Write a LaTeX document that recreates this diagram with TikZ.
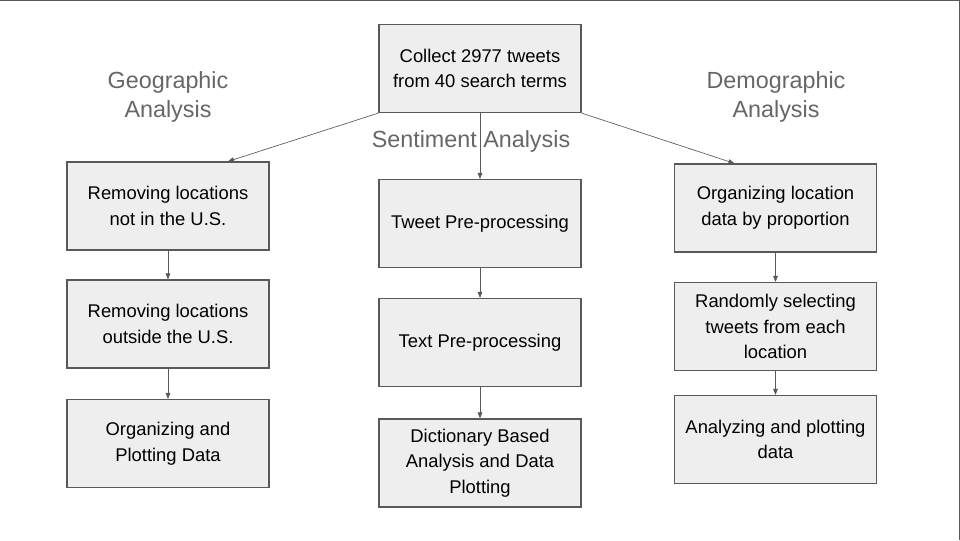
\documentclass[tikz,border=0pt]{standalone}
\usepackage{fontspec}
\setmainfont{Liberation Sans}
\usetikzlibrary{arrows.meta, positioning, calc}
\definecolor{boxgray}{HTML}{EEEEEE}
\definecolor{linegray}{HTML}{595959}
\definecolor{headgray}{HTML}{666666}

\begin{document}
\begin{tikzpicture}[x=0.75pt, y=-0.75pt,
        proc_box/.style={draw=linegray, fill=boxgray, line width=0.9pt, minimum width=151.5pt,
            minimum height=66pt, inner sep=0pt, align=center, font=\fontsize{13.8}{19.3}\selectfont},
        head_label/.style={text=headgray, align=center, font=\fontsize{17.5}{21.75}\selectfont},
        flow/.style={-{Triangle[length=4.5pt, width=3.5pt]}, draw=linegray, line width=0.5pt}]

        \useasboundingbox (0,0) rectangle (960,540);
        % frame edges seen at top and right
        \draw[linegray, line width=1.5pt] (0,0) -- (960,0) -- (960,540);

        % Start node
        \node[proc_box] (collect) at (480,68.5) {Collect 2977 tweets\\from 40 search terms};

        % Section headings
        \node[head_label] (geo_label) at (168,97) {Geographic\\Analysis};
        \node[head_label] (sent_label) at (471,141) {Sentiment Analysis};
        \node[head_label] (demo_label) at (776,97) {Demographic\\Analysis};

        % Geographic column
        \node[proc_box] (geo1) at (168,206) {Removing locations\\not in the U.S.};
        \node[proc_box] (geo2) at (168,324) {Removing locations\\outside the U.S.};
        \node[proc_box] (geo3) at (168,443.5) {Organizing and\\Plotting Data};

        % Sentiment column
        \node[proc_box] (sent1) at (480,223.5) {Tweet Pre-processing};
        \node[proc_box] (sent2) at (480,342.5) {Text Pre-processing};
        \node[proc_box] (sent3) at (480,463) {Dictionary Based\\Analysis and Data\\Plotting};

        % Demographic column
        \node[proc_box] (demo1) at (775.5,208) {Organizing location\\data by proportion};
        \node[proc_box] (demo2) at (775.5,326.5) {Randomly selecting\\tweets from each\\location};
        \node[proc_box] (demo3) at (775.5,439.5) {Analyzing and plotting\\data};

        % Branches out of the start node
        \coordinate (geo_in) at ($(geo1.north)+(60,0)$);
        \coordinate (demo_in) at ($(demo1.north)+(-41,0)$);
        \draw[flow] (collect.south west) -- (geo_in);
        \draw[flow] (collect.south) -- (sent1.north);
        \draw[flow] (collect.south east) -- (demo_in);

        % Column chains
        \draw[flow] (geo1) -- (geo2);
        \draw[flow] (geo2) -- (geo3);
        \draw[flow] (sent1) -- (sent2);
        \draw[flow] (sent2) -- (sent3);
        \draw[flow] (demo1) -- (demo2);
        \draw[flow] (demo2) -- (demo3);
    \end{tikzpicture}
\end{document}
